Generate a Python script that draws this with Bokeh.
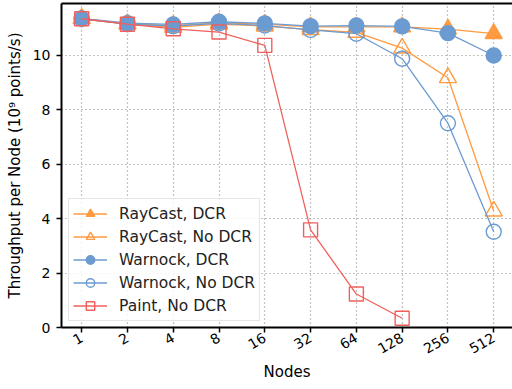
from bokeh.plotting import figure
from bokeh.models import LinearAxis, FixedTicker, Legend, LegendItem, Range1d
from bokeh.embed import file_html
from bokeh.resources import INLINE

nodes = ["1", "2", "4", "8", "16", "32", "64", "128", "256", "512"]
raycast_dcr = [11.35, 11.17, 11.10, 11.20, 11.15, 11.05, 11.05, 11.05, 10.97, 10.80]
raycast_nodcr = [11.35, 11.15, 11.03, 11.15, 11.08, 10.95, 10.85, 10.27, 9.18, 4.28]
warnock_dcr = [11.36, 11.19, 11.14, 11.24, 11.18, 11.08, 11.10, 11.07, 10.82, 10.00]
warnock_nodcr = [11.35, 11.15, 11.08, 11.18, 11.10, 10.94, 10.80, 9.88, 7.51, 3.52]
paint_nodcr = [11.35, 11.15, 10.98, 10.86, 10.37, 3.59, 1.23, 0.34]
y_ticks = [0, 2, 4, 6, 8, 10]

ORANGE = "#ff9a40"
BLUE = "#6b9bd1"
RED = "#f0605c"
FONT = "DejaVu Sans"

xs = list(range(len(nodes)))

p = figure(width=512, height=389, output_backend="svg", toolbar_location=None,
           x_range=Range1d(-0.44, 9.41), y_range=Range1d(0, 11.91),
           min_border_left=61, min_border_right=0, min_border_top=3, min_border_bottom=62)
p.outline_line_color = None
p.background_fill_color = "white"
p.border_fill_color = "white"

for g in (p.xgrid, p.ygrid):
    g.grid_line_color = "#888888"
    g.grid_line_dash = "1 3"
    g.grid_line_width = 1.2

p.xaxis.ticker = FixedTicker(ticks=xs)
p.xaxis.major_label_overrides = {i: n for i, n in enumerate(nodes)}
p.xaxis.major_label_orientation = 0.52
p.yaxis.ticker = FixedTicker(ticks=y_ticks)
p.xgrid.ticker = FixedTicker(ticks=xs)
p.ygrid.ticker = FixedTicker(ticks=y_ticks)

for ax in (p.xaxis[0], p.yaxis[0]):
    ax.axis_line_width = 2
    ax.axis_line_color = "black"
    ax.major_tick_line_width = 1.5
    ax.major_tick_line_color = "black"
    ax.major_tick_out = 5
    ax.major_tick_in = 0
    ax.minor_tick_line_color = None
    ax.major_label_text_font = FONT
    ax.major_label_text_font_size = "14px"
    ax.major_label_text_color = "black"
    ax.axis_label_text_font = FONT
    ax.axis_label_text_font_size = "15px"
    ax.axis_label_text_font_style = "normal"
    ax.axis_label_text_color = "black"

p.xaxis.axis_label = "Nodes"
p.yaxis.axis_label = "Throughput per Node (10⁹ points/s)"
p.yaxis.axis_label_standoff = 6
p.yaxis.major_label_standoff = 6
p.xaxis.major_label_standoff = 4
p.xaxis.axis_label_standoff = 2

top = LinearAxis(ticker=FixedTicker(ticks=[]), major_label_text_font_size="0px",
                 axis_line_width=2, axis_line_color="black",
                 major_tick_line_color=None, minor_tick_line_color=None,
                 major_label_standoff=0, major_tick_out=0)
p.add_layout(top, "above")

items = []

def series(ys, color, marker, filled, label, size):
    x = xs[:len(ys)]
    r1 = p.line(x, ys, line_color=color, line_width=1.3)
    kw = dict(marker=marker, size=size, line_color=color, line_width=1.4)
    if filled:
        kw.update(fill_color=color)
    else:
        kw.update(fill_color=None)
    r2 = p.scatter(x, ys, **kw)
    items.append(LegendItem(label=label, renderers=[r1, r2]))

series(raycast_dcr, ORANGE, "triangle", True, "RayCast, DCR", 17)
series(raycast_nodcr, ORANGE, "triangle", False, "RayCast, No DCR", 17)
series(warnock_dcr, BLUE, "circle", True, "Warnock, DCR", 15)
series(warnock_nodcr, BLUE, "circle", False, "Warnock, No DCR", 15)
series(paint_nodcr, RED, "square", False, "Paint, No DCR", 14)

legend = Legend(items=items, location=(7, 6))
legend.label_text_font = FONT
legend.label_text_font_size = "15.5px"
legend.label_text_color = "#222222"
legend.glyph_width = 34
legend.glyph_height = 21
legend.label_height = 21
legend.spacing = 2
legend.padding = 4
legend.margin = 0
legend.label_standoff = 12
legend.border_line_color = "#cccccc"
legend.border_line_width = 1
legend.background_fill_alpha = 0.85
p.add_layout(legend, "center")

open("out.html", "w").write(file_html(p, INLINE))
